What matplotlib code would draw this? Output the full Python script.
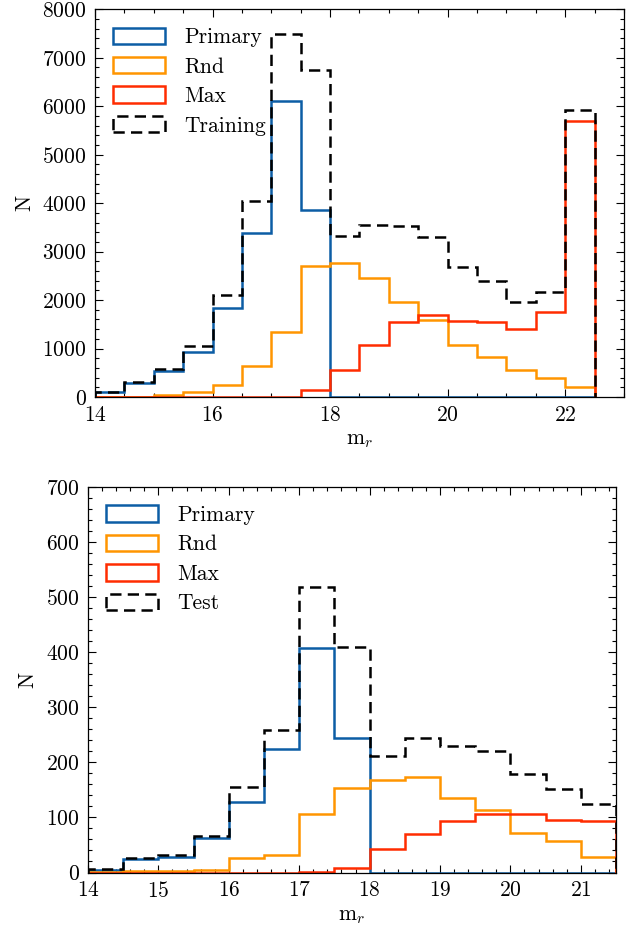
import numpy as np
import matplotlib
matplotlib.use("Agg")
import matplotlib.pyplot as plt
from matplotlib.ticker import MultipleLocator

# =========================
# DATA (counts per 0.5 mag bin)
# =========================

# top panel: training set, bins 14.0 -> 22.5
train_edges = np.arange(14.0, 22.51, 0.5)
train_primary = [100, 280, 530, 930, 1830, 3380, 6100, 3860,
                 0, 0, 0, 0, 0, 0, 0, 0, 0]
train_rnd = [5, 10, 40, 100, 240, 645, 1350, 2705,
             2760, 2465, 1965, 1595, 1080, 830, 565, 385, 215]
train_max = [0, 0, 0, 0, 0, 0, 0, 140,
             565, 1065, 1550, 1700, 1575, 1550, 1395, 1760, 5700]
train_all = [110, 310, 585, 1050, 2095, 4050, 7500, 6745,
             3330, 3545, 3530, 3310, 2680, 2390, 1965, 2165, 5925]

# bottom panel: test set, bins 14.0 -> 21.5
test_edges = np.arange(14.0, 21.51, 0.5)
test_primary = [5, 25, 28, 62, 128, 225, 407, 245,
                0, 0, 0, 0, 0, 0, 0]
test_rnd = [1, 2, 3, 5, 27, 31, 106, 153,
            168, 174, 135, 113, 71, 57, 29]
test_max = [0, 0, 0, 0, 0, 0, 1, 9,
            43, 70, 93, 106, 106, 95, 93]
test_all = [6, 27, 31, 67, 156, 259, 518, 409,
            212, 245, 229, 221, 179, 151, 124]

labels = ["Primary", "Rnd", "Max"]
colors = ["#0C5DA5", "#FF9500", "#FF2C00"]

# =========================
# STYLE
# =========================
plt.rcParams["font.family"] = "serif"
plt.rcParams["font.serif"] = ["cmr10"]
plt.rcParams["mathtext.fontset"] = "cm"
plt.rcParams["axes.formatter.use_mathtext"] = True
plt.rcParams["font.size"] = 15.5


def style_axes(ax, xmaj, xmin, ymaj, ymin):
    ax.xaxis.set_major_locator(MultipleLocator(xmaj))
    ax.xaxis.set_minor_locator(MultipleLocator(xmin))
    ax.yaxis.set_major_locator(MultipleLocator(ymaj))
    ax.yaxis.set_minor_locator(MultipleLocator(ymin))
    ax.tick_params(which="both", direction="in", top=True, right=True, width=0.8)
    ax.tick_params(which="major", length=6)
    ax.tick_params(which="minor", length=3)
    ax.tick_params(axis="x", which="major", pad=6)
    ax.tick_params(axis="y", which="major", pad=6)
    for s in ax.spines.values():
        s.set_linewidth(0.9)


def draw_panel(ax, edges, series, total, total_label):
    centers = edges[:-1] + 0.25
    for vals, lab, col in zip(series, labels, colors):
        ax.hist(centers, bins=edges, weights=vals, histtype="step",
                color=col, lw=1.8, label=lab)
    ax.hist(centers, bins=edges, weights=total, histtype="step",
            color="black", lw=1.8, ls=(0, (4.5, 2.5)), label=total_label)
    ax.set_xlabel(r"m$_r$", labelpad=4)
    ax.set_ylabel("N", labelpad=6)
    ax.legend(loc="upper left", frameon=False, handlelength=2.4,
              handleheight=0.8, handletextpad=0.9, labelspacing=0.45,
              borderaxespad=0.45)


W, H = 627, 934
fig = plt.figure(figsize=(W / 100, H / 100), dpi=100)

ax1 = fig.add_axes([95 / W, (H - 397) / H, (624 - 95) / W, (397 - 9.3) / H])
draw_panel(ax1, train_edges, [train_primary, train_rnd, train_max], train_all, "Training")
ax1.set_xlim(14, 23)
ax1.set_ylim(0, 8000)
style_axes(ax1, 2, 0.5, 1000, 200)

ax2 = fig.add_axes([88 / W, (H - 872.5) / H, (616 - 88) / W, (872.5 - 487) / H])
draw_panel(ax2, test_edges, [test_primary, test_rnd, test_max], test_all, "Test")
ax2.set_xlim(14, 21.5)
ax2.set_ylim(0, 700)
style_axes(ax2, 1, 0.2, 100, 20)

fig.savefig("out.png", dpi=100)
